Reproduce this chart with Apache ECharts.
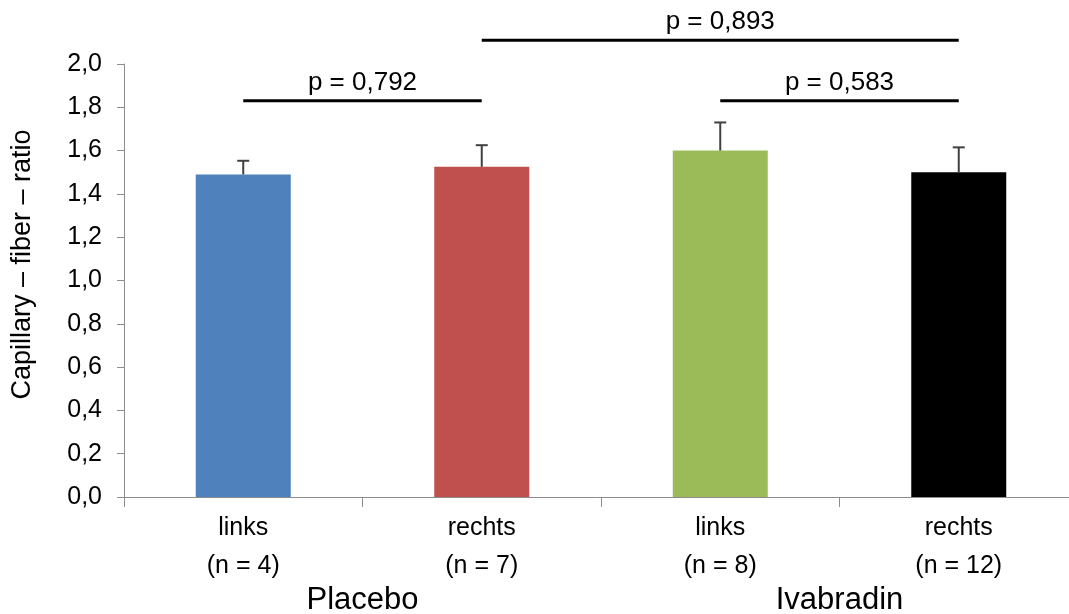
<!DOCTYPE html>
<html>
<head>
<meta charset="utf-8">
<script src="https://cdn.jsdelivr.net/npm/echarts@6/dist/echarts.min.js"></script>
<style>
  html, body { margin: 0; padding: 0; background: #fff; }
  #chart { width: 1069px; height: 614px; }
</style>
</head>
<body>
<div id="chart"></div>
<script>
// Capillary-to-fiber ratio per side and treatment group (mean + SD)
const categories = ['links\n(n = 4)', 'rechts\n(n = 7)', 'links\n(n = 8)', 'rechts\n(n = 12)'];
const groups = ['Placebo', 'Ivabradin'];
const means = [1.49, 1.525, 1.60, 1.50];
const sds = [0.063, 0.10, 0.13, 0.115];
const barColors = ['#4F81BD', '#C0504D', '#9BBB59', '#000000'];

// Significance brackets: between category indices, at a given level, with p-value text
const bracketFrom = [0, 2, 1];
const bracketTo = [1, 3, 3];
const bracketLevel = [1.83, 1.83, 2.11];
const pValues = ['p = 0,792', 'p = 0,583', 'p = 0,893'];

const FONT = '"Liberation Sans", Arial, sans-serif';

const chart = echarts.init(document.getElementById('chart'), null, { renderer: 'canvas' });

chart.setOption({
  animation: false,
  backgroundColor: '#ffffff',
  grid: { left: 124, top: 64, height: 433, width: 954, containLabel: false, outerBoundsMode: 'none' },
  xAxis: [
    {
      type: 'category',
      data: categories,
      boundaryGap: true,
      axisLine: { lineStyle: { color: '#8c8c8c', width: 1 } },
      axisTick: { show: true, length: 10, lineStyle: { color: '#8c8c8c' } },
      axisLabel: {
        color: '#000', fontFamily: FONT, fontSize: 25, lineHeight: 38,
        margin: 12, interval: 0
      }
    },
    {
      type: 'category',
      data: groups,
      position: 'bottom',
      offset: 88,
      gridIndex: 0,
      axisLine: { show: false },
      axisTick: { show: false },
      axisLabel: { color: '#000', fontFamily: FONT, fontSize: 31, margin: 0, interval: 0 }
    }
  ],
  yAxis: {
    type: 'value',
    min: 0, max: 2, interval: 0.2,
    name: 'Capillary – fiber – ratio',
    nameLocation: 'middle',
    nameGap: 88,
    nameTextStyle: { color: '#000', fontFamily: FONT, fontSize: 27, padding: [0, 0, 0, 32] },
    axisLine: { show: true, lineStyle: { color: '#8c8c8c', width: 1 } },
    axisTick: { show: true, length: 7, lineStyle: { color: '#8c8c8c' } },
    splitLine: { show: false },
    axisLabel: {
      color: '#000', fontFamily: FONT, fontSize: 25, margin: 22,
      formatter: v => v.toFixed(1).replace('.', ',')
    }
  },
  series: [
    {
      type: 'bar',
      xAxisIndex: 0,
      data: means.map((m, i) => ({ value: m, itemStyle: { color: barColors[i] } })),
      barWidth: 95
    },
    {
      // upper error whiskers
      type: 'custom',
      xAxisIndex: 0,
      data: means.map((m, i) => [i, m, sds[i]]),
      renderItem: (params, api) => {
        const base = api.coord([api.value(0), api.value(1)]);
        const top = api.coord([api.value(0), api.value(1) + api.value(2)]);
        const half = 6;
        const style = { stroke: '#404040', lineWidth: 2 };
        return {
          type: 'group',
          children: [
            { type: 'line', shape: { x1: base[0], y1: base[1], x2: top[0], y2: top[1] }, style },
            { type: 'line', shape: { x1: top[0] - half, y1: top[1], x2: top[0] + half, y2: top[1] }, style }
          ]
        };
      },
      z: 3
    },
    {
      // significance brackets with p-values
      type: 'custom',
      xAxisIndex: 0,
      clip: false,
      data: bracketFrom.map((f, i) => [f, bracketTo[i], bracketLevel[i], i]),
      renderItem: (params, api) => {
        const a = api.coord([api.value(0), api.value(2)]);
        const b = api.coord([api.value(1), api.value(2)]);
        const idx = api.value(3);
        return {
          type: 'group',
          children: [
            { type: 'line', shape: { x1: a[0], y1: a[1], x2: b[0], y2: b[1] },
              style: { stroke: '#000', lineWidth: 3 } },
            { type: 'text',
              style: {
                text: pValues[idx], x: (a[0] + b[0]) / 2, y: a[1] - 5,
                align: 'center', verticalAlign: 'bottom',
                fill: '#000', fontFamily: FONT, fontSize: 26
              } }
          ]
        };
      },
      z: 4
    }
  ]
});
</script>
</body>
</html>
